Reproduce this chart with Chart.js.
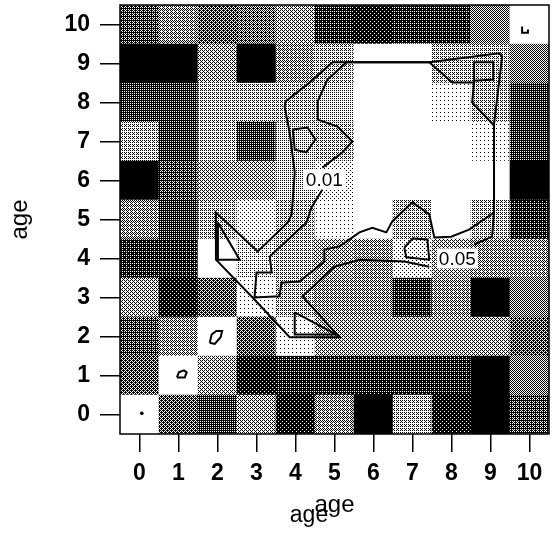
<!DOCTYPE html>
<html>
<head>
<meta charset="utf-8">
<script src="https://cdn.jsdelivr.net/npm/chart.js@4.4.1/dist/chart.umd.min.js"></script>
<style>
  html, body { margin: 0; padding: 0; background: #fff; }
  canvas { display: block; }
</style>
</head>
<body>
<canvas id="chart" width="555" height="533"></canvas>
<script>
// tick labels on both axes (age)
const xTicks = [0, 1, 2, 3, 4, 5, 6, 7, 8, 9, 10];
const yTicks = [0, 1, 2, 3, 4, 5, 6, 7, 8, 9, 10];
const cols = [0, 1, 2, 3, 4, 5, 6, 7, 8, 9, 10];

// grey level of each cell (0 = white, 1 = black), one array per row (y age)
const row10 = [0.7, 0.45, 0.6, 0.55, 0.35, 0.8, 0.9, 0.8, 0.8, 0.5, 0];
const row9  = [1, 1, 0.4, 1, 0.45, 0.3, 0, 0, 0.3, 0.3, 0.5];
const row8  = [0.75, 0.75, 0.3, 0.3, 0.3, 0.25, 0, 0, 0.05, 0.3, 0.75];
const row7  = [0.3, 0.75, 0.3, 0.75, 0.25, 0.3, 0, 0, 0, 0.05, 0.75];
const row6  = [1, 0.7, 0.4, 0.4, 0.25, 0.1, 0, 0, 0, 0, 1];
const row5  = [0.45, 0.75, 0.3, 0.15, 0.3, 0.05, 0, 0.3, 0, 0.3, 0.8];
const row4  = [0.8, 0.8, 0, 0.2, 0.3, 0.35, 0.45, 0.15, 0.35, 0.45, 0.45];
const row3  = [0.4, 0.85, 0.6, 0.05, 0.3, 0.45, 0.45, 0.8, 0.45, 1, 0.5];
const row2  = [0.7, 0.45, 0, 0.6, 0.05, 0.4, 0.35, 0.35, 0.35, 0.35, 0.65];
const row1  = [0.6, 0, 0.4, 0.85, 0.8, 0.8, 0.8, 0.8, 0.8, 1, 0.5];
const row0  = [0, 0.6, 0.75, 0.4, 0.85, 0.45, 1, 0.3, 0.85, 1, 0.7];
const shadeRows = [row0, row1, row2, row3, row4, row5, row6, row7, row8, row9, row10];

// contour lines in axis units
const contour05 = [
  {x: 8.58, y: 4.36}, {x: 9.04, y: 4.56}, {x: 9.09, y: 5.18}, {x: 9.09, y: 7.44},
  {x: 9.30, y: 9.18}, {x: 9.22, y: 9.26}, {x: 7.43, y: 9.03}, {x: 4.95, y: 9.03},
  {x: 4.36, y: 8.51}, {x: 3.75, y: 8.03}, {x: 3.72, y: 7.90}, {x: 3.85, y: 7.23},
  {x: 3.98, y: 6.21}, {x: 3.93, y: 5.51}, {x: 3.90, y: 5.13}, {x: 3.80, y: 4.92},
  {x: 3.03, y: 4.18}, {x: 1.96, y: 5.18}, {x: 1.96, y: 3.97}, {x: 2.90, y: 3.00},
  {x: 3.85, y: 1.98}, {x: 5.13, y: 1.98}, {x: 4.18, y: 3.03}, {x: 5.00, y: 3.79},
  {x: 5.64, y: 3.97}, {x: 6.79, y: 3.92}, {x: 7.43, y: 3.79}
];
const contour01 = [
  {x: 4.69, y: 5.77}, {x: 4.41, y: 5.31}, {x: 4.28, y: 4.92}, {x: 4.03, y: 4.69},
  {x: 3.34, y: 4.05}, {x: 3.39, y: 3.64}, {x: 3.00, y: 3.64}, {x: 2.95, y: 3.00},
  {x: 3.59, y: 3.03}, {x: 3.64, y: 3.38}, {x: 4.10, y: 3.41}, {x: 4.74, y: 3.92},
  {x: 4.74, y: 4.23}, {x: 5.13, y: 4.31}, {x: 5.64, y: 4.67}, {x: 5.97, y: 4.79},
  {x: 6.33, y: 4.67}, {x: 6.48, y: 4.95}, {x: 7.00, y: 5.44}, {x: 7.43, y: 5.13},
  {x: 7.56, y: 4.54}, {x: 7.99, y: 4.56}, {x: 8.45, y: 4.74}, {x: 9.09, y: 5.18},
  {x: 9.09, y: 7.41}, {x: 8.53, y: 8.00}, {x: 8.58, y: 8.51}, {x: 8.02, y: 8.51},
  {x: 7.43, y: 9.03}, {x: 5.31, y: 9.03}, {x: 4.82, y: 8.59}, {x: 4.57, y: 8.03},
  {x: 4.57, y: 7.56}, {x: 5.08, y: 7.38}, {x: 5.46, y: 7.00}, {x: 5.20, y: 6.72},
  {x: 4.69, y: 6.33}
];
// small closed contours
const islandA = [{x: 3.93, y: 7.31}, {x: 4.31, y: 7.36}, {x: 4.51, y: 7.05}, {x: 4.28, y: 6.72}, {x: 3.98, y: 6.79}, {x: 3.93, y: 7.31}];
const islandB = [{x: 8.58, y: 9.03}, {x: 9.07, y: 9.03}, {x: 9.07, y: 8.59}, {x: 8.58, y: 8.56}, {x: 8.58, y: 9.03}];
const islandC = [{x: 6.79, y: 4.28}, {x: 7.00, y: 4.51}, {x: 7.38, y: 4.49}, {x: 7.43, y: 3.97}, {x: 6.84, y: 4.03}, {x: 6.79, y: 4.28}];
const islandD = [{x: 2.01, y: 4.92}, {x: 2.01, y: 3.97}, {x: 2.57, y: 3.97}, {x: 2.01, y: 4.92}];
const islandE = [{x: 3.98, y: 2.62}, {x: 3.98, y: 2.05}, {x: 5.05, y: 2.05}, {x: 3.98, y: 2.62}];
const islandF = [{x: 1.80, y: 1.84}, {x: 1.85, y: 2.05}, {x: 1.97, y: 2.14}, {x: 2.12, y: 2.14}, {x: 2.08, y: 1.98}, {x: 1.93, y: 1.81}, {x: 1.80, y: 1.84}];
const islandG = [{x: 0.96, y: 0.95}, {x: 1.01, y: 1.08}, {x: 1.14, y: 1.13}, {x: 1.21, y: 1.08}, {x: 1.16, y: 0.95}, {x: 0.96, y: 0.95}];
const islandH = [{x: 9.81, y: 9.95}, {x: 9.81, y: 9.79}, {x: 9.96, y: 9.79}, {x: 9.96, y: 9.87}];
const dotPoint = [{x: 0.06, y: 0.03}];

const contourLabels = ['0.01', '0.05'];
const labelSpots = [{x: 4.74, y: 6.03}, {x: 8.15, y: 4.0}];

const canvas = document.getElementById('chart');
const ctx = canvas.getContext('2d');

// 4x4 ordered dither, looks like the printed halftone
const bayer = [[0, 8, 2, 10], [12, 4, 14, 6], [3, 11, 1, 9], [15, 7, 13, 5]];
function halftone(g) {
  const n = Math.round(g * 16);
  if (n <= 0) return '#ffffff';
  if (n >= 16) return '#000000';
  const c = document.createElement('canvas');
  c.width = 4; c.height = 4;
  const cx = c.getContext('2d');
  cx.fillStyle = '#fff';
  cx.fillRect(0, 0, 4, 4);
  cx.fillStyle = '#000';
  for (let i = 0; i < 4; i++) {
    for (let j = 0; j < 4; j++) {
      if (bayer[i][j] < n) cx.fillRect(j, i, 1, 1);
    }
  }
  return ctx.createPattern(c, 'repeat');
}

const cellSets = shadeRows.map((vals, r) => ({
  type: 'bar',
  data: cols.map(c => ({x: c, y: [r - 0.5, r + 0.5]})),
  backgroundColor: vals.map(v => halftone(v)),
  borderWidth: 0,
  barPercentage: 1,
  categoryPercentage: 1,
  grouped: false,
  order: 2
}));

function lineSet(points) {
  return {
    type: 'line',
    data: points,
    borderColor: '#000',
    borderWidth: 2,
    pointRadius: 0,
    fill: false,
    tension: 0,
    order: 1
  };
}

const lineSets = [contour05, contour01, islandA, islandB, islandC, islandD, islandE, islandF, islandG, islandH].map(lineSet);
lineSets.push({
  type: 'line',
  data: dotPoint,
  showLine: false,
  pointRadius: 1.8,
  pointBackgroundColor: '#000',
  pointBorderWidth: 0,
  order: 1
});

const tickFont = {family: 'Liberation Sans, Arial, sans-serif', size: 23, weight: 'bold'};
const titleFont = {family: 'Liberation Sans, Arial, sans-serif', size: 24};

const framePlugin = {
  id: 'frame',
  afterDatasetsDraw(chart) {
    const c = chart.ctx;
    const xs = chart.scales.x, ys = chart.scales.y;
    c.save();
    c.font = '19px Liberation Sans, Arial, sans-serif';
    c.textAlign = 'center';
    c.textBaseline = 'middle';
    contourLabels.forEach((t, i) => {
      const px = xs.getPixelForValue(labelSpots[i].x);
      const py = ys.getPixelForValue(labelSpots[i].y);
      const w = c.measureText(t).width + 4;
      c.fillStyle = '#fff';
      c.fillRect(px - w / 2, py - 10, w, 20);
      c.fillStyle = '#000';
      c.fillText(t, px, py + 1);
    });
    c.restore();
  },
  afterDraw(chart) {
    const c = chart.ctx;
    const a = chart.chartArea;
    c.save();
    c.strokeStyle = '#000';
    c.lineWidth = 1.5;
    c.strokeRect(a.left, a.top, a.right - a.left, a.bottom - a.top);
    // second, offset copy of the x title as printed in the source
    c.font = '23px Liberation Sans, Arial, sans-serif';
    c.fillStyle = '#000';
    c.textAlign = 'center';
    c.textBaseline = 'alphabetic';
    c.fillText('age', 309, 522);
    c.restore();
  }
};

new Chart(canvas, {
  type: 'bar',
  data: { datasets: [...lineSets, ...cellSets] },
  options: {
    responsive: false,
    devicePixelRatio: 1,
    animation: false,
    layout: { padding: { top: 5, right: 6, left: 0, bottom: 0 } },
    plugins: { legend: { display: false }, tooltip: { enabled: false } },
    scales: {
      x: {
        type: 'linear',
        min: -0.5,
        max: 10.5,
        offset: false,
        afterBuildTicks: s => { s.ticks = xTicks.map(v => ({value: v})); },
        afterFit: s => { s.height = 99; s.paddingLeft = 0; s.paddingRight = 0; },
        grid: { offset: false, drawOnChartArea: false, drawTicks: true, tickLength: 18, color: '#000', lineWidth: 1.5 },
        border: { display: false },
        ticks: { color: '#000', font: tickFont, padding: 8, maxRotation: 0, autoSkip: false },
        title: { display: true, text: 'age', color: '#000', font: titleFont, padding: { top: 0, bottom: 13 } }
      },
      y: {
        type: 'linear',
        min: -0.5,
        max: 10.5,
        afterBuildTicks: s => { s.ticks = yTicks.map(v => ({value: v})); },
        afterFit: s => { s.width = 120; s.paddingTop = 0; s.paddingBottom = 0; },
        grid: { drawOnChartArea: false, drawTicks: true, tickLength: 20, color: '#000', lineWidth: 1.5 },
        border: { display: false },
        ticks: { color: '#000', font: tickFont, padding: 10, autoSkip: false },
        title: { display: true, text: 'age', color: '#000', font: titleFont, padding: { top: 6, bottom: 0 } }
      }
    }
  },
  plugins: [framePlugin]
});
</script>
</body>
</html>
